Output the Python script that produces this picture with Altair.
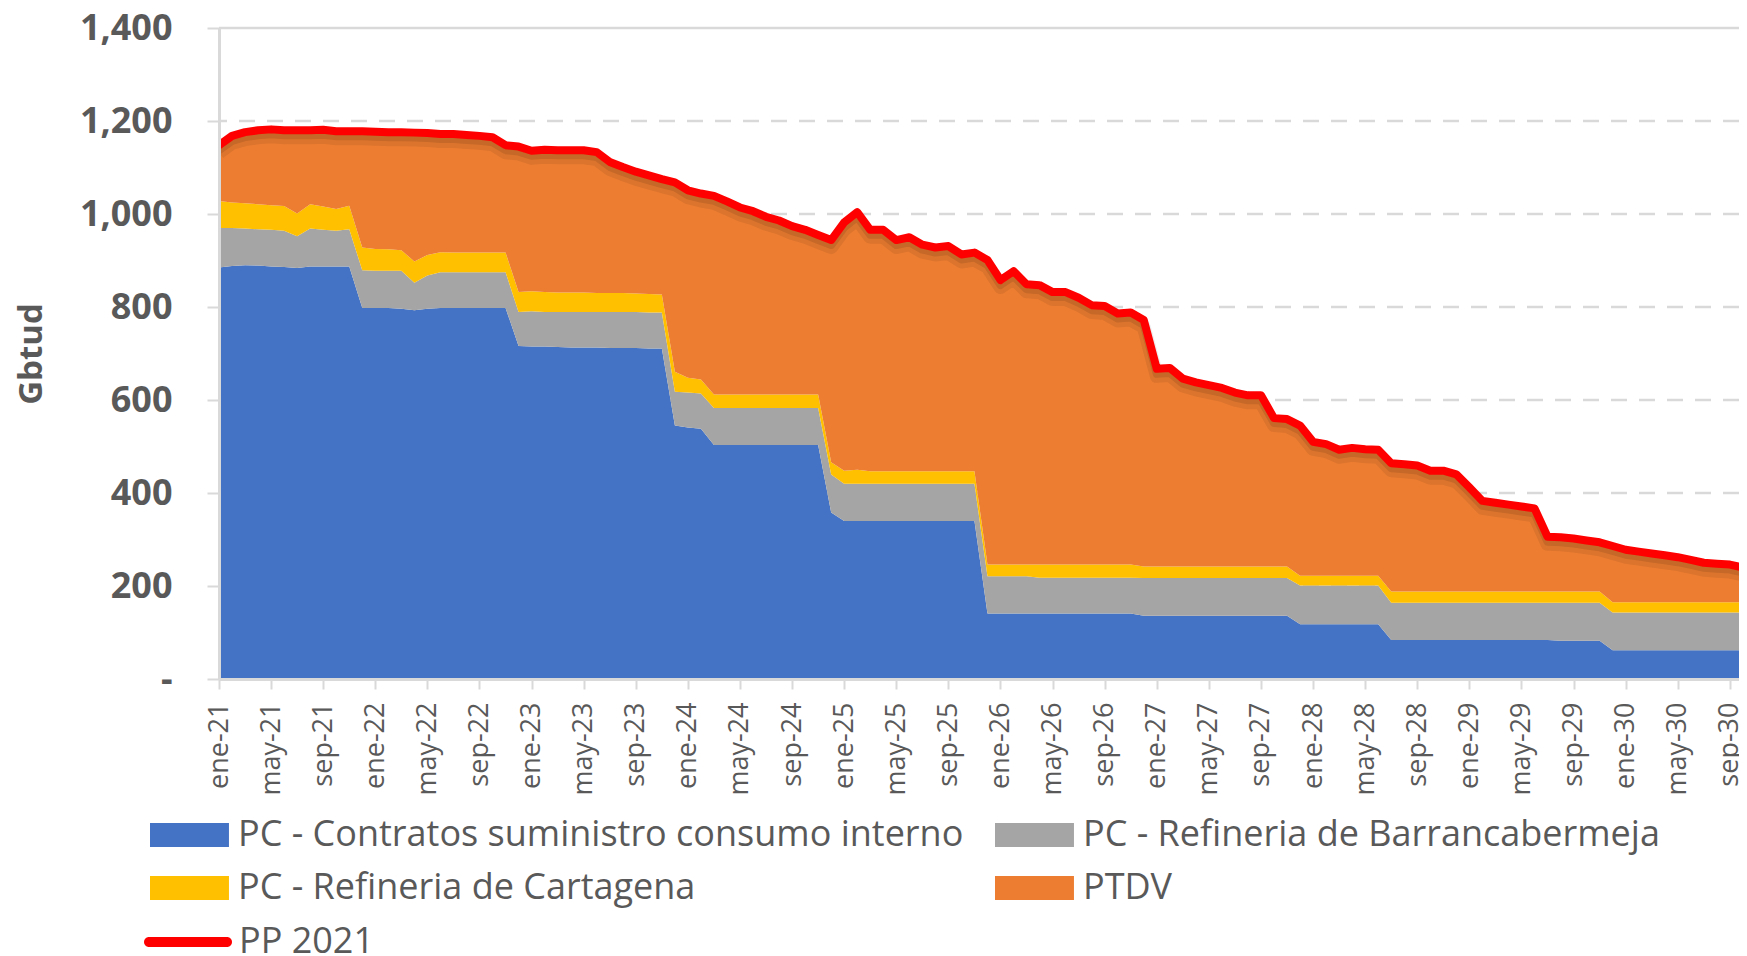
import altair as alt
import pandas as pd

# ---- data (Gbtud, monthly from ene-21) ----
MESES = ['ene', 'feb', 'mar', 'abr', 'may', 'jun', 'jul', 'ago', 'sep', 'oct', 'nov', 'dic']

SERIES = ['PC - Contratos suministro consumo interno',
          'PC - Refineria de Barrancabermeja',
          'PC - Refineria de Cartagena',
          'PTDV']
COLORES = ['#4472C4', '#A5A5A5', '#FFC000', '#ED7D31']

contratos = ([885, 888, 890, 889, 887, 886, 884, 887, 887, 887, 887,
              798, 798, 798, 796, 793, 796, 798, 798, 798, 798, 798, 798,
              716, 715, 715, 714, 713, 713, 713, 712, 712, 712, 711, 711,
              545, 541, 538]
             + [503] * 9 + [358] + [340] * 11 + [141] * 12 + [136] * 12
             + [118] * 7 + [84] * 13 + [82] * 4 + [62] * 11)

barranca = ([85, 82, 79, 78, 79, 78, 68, 82, 79, 77, 80,
             81, 80, 80, 82, 59, 72, 77, 77, 77, 77, 77, 77,
             73, 76, 74, 75, 76, 76, 76, 77, 77, 77, 77, 77,
             73, 75, 76]
            + [80] * 9 + [82] + [80] * 11 + [80] * 4 + [77] * 8 + [81] * 12
            + [83] * 7 + [80] * 13 + [82] * 4 + [81] * 11)

cartagena = ([58, 55, 54, 54, 53, 53, 49, 52, 50, 47, 51,
              49, 47, 46, 44, 46, 44, 43, 42, 42, 42, 42, 42,
              43, 43, 43, 42, 42, 42, 41, 41, 41, 40, 40, 39,
              43, 32, 30]
             + [29] * 9 + [26, 28, 30] + [27] * 9 + [25] * 4 + [28] * 8 + [25] * 12
             + [21] * 7 + [24] * 17 + [22] * 11)

pp2021 = [1148, 1168, 1176, 1180, 1182, 1180, 1180, 1180, 1181, 1178, 1178,
          1178, 1177, 1176, 1176, 1175, 1174, 1172, 1172, 1170, 1168, 1165, 1148,
          1145, 1136, 1138, 1137, 1137, 1137, 1133, 1112, 1101, 1091, 1083, 1075,
          1068, 1051, 1044, 1039, 1027, 1014, 1006, 994, 986, 974, 966, 955,
          944, 982, 1004, 966, 966, 944, 950, 934, 928, 931, 913, 917,
          901, 858, 877, 849, 847, 832, 832, 820, 804, 802, 786, 788,
          772, 667, 669, 646, 638, 632, 626, 616, 610, 610, 561, 559,
          545, 510, 505, 493, 497, 494, 493, 464, 462, 459, 448, 448,
          440, 412, 383, 379, 375, 371, 367, 306, 305, 302, 298, 294,
          286, 278, 274, 270, 266, 262, 256, 250, 248, 246, 240]

ptdv = [p - (a + b + c) for p, a, b, c in zip(pp2021, contratos, barranca, cartagena)]

n = len(pp2021)
rows = []
for k, (name, vals) in enumerate(zip(SERIES, [contratos, barranca, cartagena, ptdv])):
    for i in range(n):
        rows.append({'i': i, 'serie': name, 'valor': vals[i], 'ord': k})
df_area = pd.DataFrame(rows)
df_line = pd.DataFrame({'i': list(range(n)), 'valor': pp2021, 'serie': 'PP 2021'})

GRID_DASHED = [200, 400, 600, 800, 1000, 1200]
GRID_TOP = [1400]

W, H = 1520, 651
FONT = 'Open Sans'
TXT = '#595959'
AX = '#D9D9D9'

x_scale = alt.Scale(domain=[0, 116.7], nice=False, zero=False)
y_scale = alt.Scale(domain=[0, 1400], nice=False)

label_expr = ("['ene','feb','mar','abr','may','jun','jul','ago','sep','oct','nov','dic'][datum.value % 12]"
              " + '-' + (21 + floor(datum.value / 12))")

x_axis = alt.Axis(values=list(range(0, 117, 4)), labelExpr=label_expr, title=None,
                  grid=False, tickSize=10, tickColor=AX, tickWidth=2,
                  domainColor=AX, domainWidth=3, labelAngle=270, labelAlign='right',
                  labelBaseline='middle', labelFont=FONT, labelFontSize=27,
                  labelColor=TXT, labelPadding=13, labelOverlap=False, zindex=1)

y_axis = alt.Axis(values=[0, 200, 400, 600, 800, 1000, 1200, 1400],
                  labelExpr="datum.value == 0 ? '-' : format(datum.value, ',')",
                  title='Gbtud', titleFont=FONT, titleFontSize=33, titleFontWeight='bold',
                  titleColor=TXT, titleAngle=270, titleX=-188, titleY=325.5,
                  titleAlign='center', titleBaseline='middle',
                  grid=False, tickSize=12, tickColor=AX, tickWidth=2,
                  domainColor=AX, domainWidth=3, labelFont=FONT, labelFontSize=36,
                  labelFontWeight='bold', labelColor=TXT, labelPadding=35, zindex=1)

grid = alt.Chart(pd.DataFrame({'y': GRID_DASHED})).mark_rule(
    color=AX, strokeWidth=2.5, strokeDash=[16, 12]).encode(
    y=alt.Y('y:Q', scale=y_scale, axis=y_axis, title='Gbtud'))
top = alt.Chart(pd.DataFrame({'y': GRID_TOP})).mark_rule(
    color=AX, strokeWidth=2.5).encode(
    y=alt.Y('y:Q', scale=y_scale, axis=y_axis, title='Gbtud'))

# rectangle symbol: nominal 24x24 box, drawn 79 px wide to the right
rect_path = 'M-1,-1H5.58V1H-1Z'
areas = alt.Chart(df_area).mark_area(clip=True, interpolate='linear').encode(
    x=alt.X('i:Q', scale=x_scale, axis=x_axis),
    y=alt.Y('valor:Q', stack='zero', scale=y_scale, axis=y_axis, title='Gbtud'),
    fill=alt.Fill('serie:N', scale=alt.Scale(domain=SERIES, range=COLORES),
                  legend=alt.Legend(orient='none', legendX=-75, legendY=789,
                                    columns=2, direction='horizontal', title=None,
                                    symbolType=rect_path, symbolSize=576,
                                    symbolStrokeWidth=0, symbolOpacity=1,
                                    labelFont=FONT, labelFontSize=36, labelColor=TXT,
                                    labelLimit=2000, labelOffset=58,
                                    rowPadding=17, columnPadding=25, padding=0)),
    order=alt.Order('ord:Q', sort='ascending'),
)

shadow_wide = alt.Chart(df_line).mark_line(clip=True, color='#000000', opacity=0.07,
                                           strokeWidth=14, yOffset=7, strokeJoin='round').encode(
    x=alt.X('i:Q', scale=x_scale),
    y=alt.Y('valor:Q', scale=y_scale, axis=y_axis, title='Gbtud'),
)
shadow = alt.Chart(df_line).mark_line(clip=True, color='#000000', opacity=0.10,
                                      strokeWidth=8, yOffset=5, strokeJoin='round').encode(
    x=alt.X('i:Q', scale=x_scale),
    y=alt.Y('valor:Q', scale=y_scale, axis=y_axis, title='Gbtud'),
)

# capsule symbol: nominal 10x10 box, drawn 88 px wide to the right
capsule = 'M0,-1H15.6A1,1 0 0 1 15.6,1H0A1,1 0 0 1 0,-1Z'
line = alt.Chart(df_line).mark_line(clip=True, strokeWidth=8, strokeJoin='round',
                                    strokeCap='round').encode(
    x=alt.X('i:Q', scale=x_scale),
    y=alt.Y('valor:Q', scale=y_scale, axis=y_axis, title='Gbtud'),
    stroke=alt.Stroke('serie:N', scale=alt.Scale(domain=['PP 2021'], range=['#FF0000']),
                      legend=alt.Legend(orient='none', legendX=-88, legendY=896,
                                        title=None, symbolType=capsule, symbolSize=100,
                                        symbolFillColor='#FF0000', symbolStrokeWidth=0,
                                        symbolOpacity=1,
                                        labelFont=FONT, labelFontSize=36, labelColor=TXT,
                                        labelLimit=2000, labelOffset=72, padding=0)),
)

chart = alt.layer(grid, top, areas, shadow_wide, shadow, line).resolve_scale(
    fill='independent', stroke='independent'
).properties(
    width=W, height=H,
    autosize=alt.AutoSizeParams(type='none'),
    padding={'left': 211, 'top': 20, 'right': 0, 'bottom': 275},
    background='white',
).configure_view(stroke=None)

chart.save('out.html', embed_options={'renderer': 'svg', 'actions': False})
